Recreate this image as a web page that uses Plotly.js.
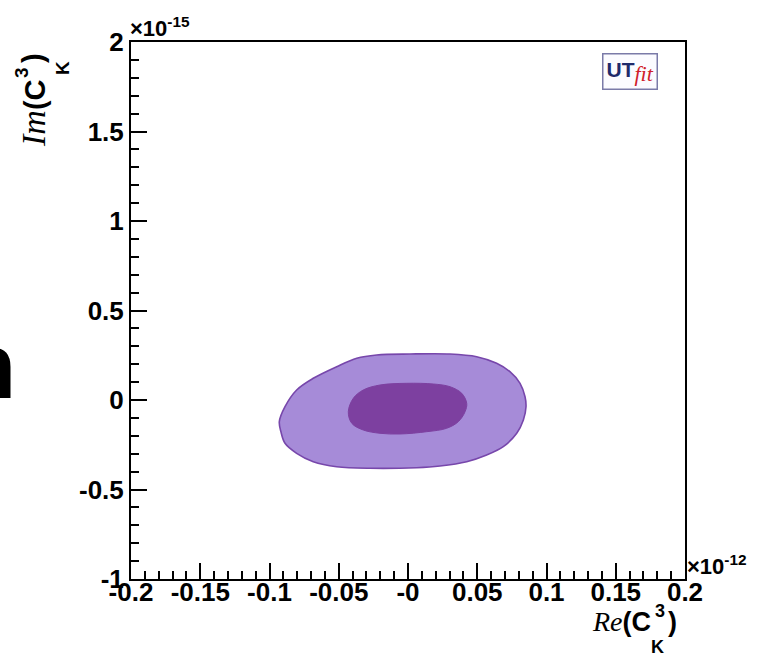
<!DOCTYPE html>
<html>
<head>
<meta charset="utf-8">
<script src="https://cdn.plot.ly/plotly-3.0.1.min.js"></script>
<style>html,body{margin:0;padding:0;background:#fff;}#chart{width:758px;height:654px;}</style>
</head>
<body>
<div id="chart"></div>
<script>
// Re(C_K^3) in units of 1e-12, Im(C_K^3) in units of 1e-15
const outerRe = [-0.0929,-0.0888,-0.0804,-0.0684,-0.0515,-0.0370,-0.0226,0.0014,0.0303,0.0496,0.0640,0.0736,0.0809,0.0845,0.0852,0.0833,0.0785,0.0688,0.0568,0.0424,0.0231,0.0063,-0.0274,-0.0515,-0.0684,-0.0804,-0.0888,-0.0917,-0.0929];
const outerIm = [-0.1212,-0.0374,0.0559,0.1212,0.1860,0.2330,0.2514,0.2570,0.2570,0.2419,0.2050,0.1581,0.0933,0.0184,-0.0374,-0.1117,-0.1860,-0.2609,-0.3073,-0.3447,-0.3687,-0.3782,-0.3816,-0.3726,-0.3447,-0.2978,-0.2419,-0.1788,-0.1212];
const innerRe = [-0.0431,-0.0395,-0.0323,-0.0202,-0.0009,0.0183,0.0303,0.0388,0.0424,0.0412,0.0363,0.0279,0.0135,-0.0058,-0.0202,-0.0323,-0.0406,-0.0431];
const innerIm = [-0.0654,0.0095,0.0559,0.0838,0.0933,0.0894,0.0743,0.0374,-0.0184,-0.0654,-0.1212,-0.1581,-0.1771,-0.1899,-0.1860,-0.1676,-0.1302,-0.0654];

const xTickVals = [-0.2,-0.15,-0.1,-0.05,0,0.05,0.1,0.15,0.2];
const xTickText = ["-0.2","-0.15","-0.1","-0.05","-0","0.05","0.1","0.15","0.2"];
const yTickVals = [-1,-0.5,0,0.5,1,1.5,2];
const yTickText = ["-1","-0.5","0","0.5","1","1.5","2"];

const W = 758, H = 654;
const M = {l:131, r:73, t:42, b:75};
const PW = W - M.l - M.r, PH = H - M.t - M.b;
function P(px, py){ return {x:(px-M.l)/PW, y:(H-M.b-py)/PH, xref:'paper', yref:'paper', showarrow:false}; }
const SANS = 'Liberation Sans, Arial, sans-serif';
function serifIt(t, size){ return '<span style="font-family:Liberation Serif;font-style:italic;font-weight:normal;font-size:'+size+'px">'+t+'</span>'; }

const traces = [
  {x: outerRe, y: outerIm, type:'scatter', mode:'lines', fill:'toself',
   fillcolor:'#a68bd8', line:{color:'#7747ab', width:1.6, shape:'spline', smoothing:1}, hoverinfo:'skip'},
  {x: innerRe, y: innerIm, type:'scatter', mode:'lines', fill:'toself',
   fillcolor:'#7d40a0', line:{color:'#7d40a0', width:1, shape:'spline', smoothing:1}, hoverinfo:'skip'}
];

function ann(px, py, text, size, extra){
  return Object.assign(P(px,py), {text:text, font:{family:SANS, size:size, color:'#000', weight:'bold'},
    xanchor:'center', yanchor:'middle', borderpad:0}, extra||{});
}

const annotations = [
  // y exponent
  Object.assign(P(128,27), {text:'×10<sup>-15</sup>', font:{family:SANS,size:22,color:'#000',weight:'bold'}, xanchor:'left', yanchor:'middle'}),
  // x exponent
  Object.assign(P(685,565), {text:'×10<sup>-12</sup>', font:{family:SANS,size:22,color:'#000',weight:'bold'}, xanchor:'left', yanchor:'middle'}),
  // x title
  ann(621, 621, serifIt('Re',28)+'(C', 27),
  ann(660, 611, '3', 18),
  ann(657.5, 646.5, 'K', 18),
  ann(672, 622, ')', 27),
  // y title
  ann(33, 113, serifIt('Im',34)+'(C', 29, {textangle:-90}),
  ann(21, 73, '3', 19, {textangle:-90}),
  ann(63, 68, 'K', 19, {textangle:-90}),
  ann(33, 58, ')', 29, {textangle:-90}),
  // logo
  Object.assign(P(629.5,71), {text:'<span style="color:#1f2a6b;font-weight:bold">UT</span><sub><span style="font-family:Liberation Serif;font-style:italic;color:#d0202a;font-size:22px">fit</span></sub>',
    font:{family:SANS,size:21,color:'#1f2a6b'}, xanchor:'center', yanchor:'middle',
    bgcolor:'#fbfbff', bordercolor:'#7a7aa8', borderwidth:1.5, borderpad:3}),
  // stray letter at left edge
  Object.assign(P(18,366), {text:'n', font:{family:SANS,size:92,color:'#000',weight:'bold'}, xanchor:'right', yanchor:'middle'})
];

const axisCommon = {
  showgrid:false, zeroline:false, showline:true, linecolor:'#000', linewidth:2, mirror:true,
  ticks:'inside', ticklen:16, tickwidth:2, tickcolor:'#000',
  tickmode:'array', fixedrange:true,
  tickfont:{family:SANS, size:26, color:'#000', weight:'bold'}
};

const layout = {
  width:W, height:H, margin:M, paper_bgcolor:'#fff', plot_bgcolor:'#fff', showlegend:false,
  xaxis: Object.assign({}, axisCommon, {range:[-0.2,0.2], tickvals:xTickVals, ticktext:xTickText, ticklabelstandoff:-11,
    minor:{tickmode:'linear', tick0:-0.2, dtick:0.01, ticks:'inside', ticklen:8, tickwidth:2, tickcolor:'#000'}}),
  yaxis: Object.assign({}, axisCommon, {range:[-1,2], tickvals:yTickVals, ticktext:yTickText,
    minor:{tickmode:'linear', tick0:-1, dtick:0.1, ticks:'inside', ticklen:8, tickwidth:2, tickcolor:'#000'}}),
  annotations: annotations
};

Plotly.newPlot('chart', traces, layout, {staticPlot:true, displayModeBar:false});
</script>
</body>
</html>
